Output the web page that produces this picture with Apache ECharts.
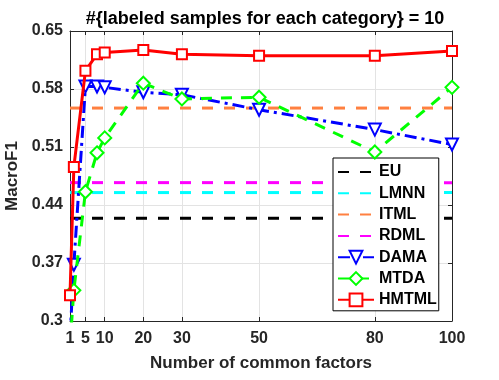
<!DOCTYPE html>
<html>
<head>
<meta charset="utf-8">
<script src="https://cdn.jsdelivr.net/npm/echarts@6/dist/echarts.min.js"></script>
<style>html,body{margin:0;padding:0;background:#fff;}#c{width:499px;height:380px;}</style>
</head>
<body>
<div id="c"></div>
<script>
const xValues = [1, 2, 5, 8, 10, 20, 30, 50, 80, 100];
const hmtml = [0.331, 0.486, 0.602, 0.622, 0.624, 0.627, 0.622, 0.620, 0.620, 0.626];
const dama  = [0.28, 0.368, 0.583, 0.583, 0.582, 0.576, 0.573, 0.555, 0.531, 0.513];
const mtda  = [0.27, 0.337, 0.456, 0.503, 0.521, 0.587, 0.568, 0.570, 0.504, 0.582];
const euVal = 0.424;
const lmnnVal = 0.455;
const itmlVal = 0.557;
const rdmlVal = 0.467;
const xTicks = [1, 5, 10, 20, 30, 50, 80, 100];
const yTicks = [0.3, 0.37, 0.44, 0.51, 0.58, 0.65];

const FONT = 'Liberation Sans, Arial, sans-serif';
const AX = '#262626';
const pair = (ys) => xValues.map((x, i) => [x, ys[i]]);
const flat = (v) => [[1, v], [100, v]];

function hline(name, v, color) {
  return {
    name, type: 'line', data: flat(v), symbol: 'none', xAxisIndex: 0, yAxisIndex: 0,
    lineStyle: { color, width: 3, type: [11, 11] }, itemStyle: { color }, z: 2, silent: true
  };
}

const chart = echarts.init(document.getElementById('c'), null, { renderer: 'canvas' });
chart.setOption({
  animation: false,
  backgroundColor: '#fff',
  title: {
    text: '#{labeled samples for each category} = 10',
    left: 260, top: 5, textAlign: 'center',
    textStyle: { fontFamily: FONT, fontSize: 18, fontWeight: 'bold', color: '#000' }
  },
  grid: { left: 70, right: 47, top: 31, bottom: 59, containLabel: false, outerBoundsMode: 'none' },
  xAxis: [{
    type: 'value', min: 1, max: 100,
    name: 'Number of common factors', nameLocation: 'middle', nameGap: 34,
    nameTextStyle: { fontFamily: FONT, fontSize: 17, fontWeight: 'bold', color: AX },
    axisLine: { show: true, lineStyle: { color: AX, width: 1 } },
    axisTick: { show: true, inside: true, length: 4, customValues: xTicks, lineStyle: { color: AX } },
    axisLabel: { customValues: xTicks, margin: 10, fontFamily: FONT, fontSize: 16, fontWeight: 'bold', color: AX },
    splitLine: { show: true, lineStyle: { color: '#e3e3e3', width: 1 } }
  }, {
    type: 'value', min: 1, max: 100, position: 'top',
    axisLine: { show: true, onZero: false, lineStyle: { color: AX, width: 1 } },
    axisTick: { show: true, inside: true, length: 4, customValues: xTicks, lineStyle: { color: AX } },
    axisLabel: { show: false }, splitLine: { show: false }
  }],
  yAxis: [{
    type: 'value', min: 0.3, max: 0.65,
    name: 'MacroF1', nameLocation: 'middle', nameGap: 42, nameRotate: 90,
    nameTextStyle: { fontFamily: FONT, fontSize: 17, fontWeight: 'bold', color: AX },
    axisLine: { show: true, lineStyle: { color: AX, width: 1 } },
    axisTick: { show: true, inside: true, length: 4, customValues: yTicks, lineStyle: { color: AX } },
    axisLabel: { customValues: yTicks, margin: 7, fontFamily: FONT, fontSize: 16, fontWeight: 'bold', color: AX,
      formatter: (v) => String(Math.round(v * 100) / 100) },
    splitLine: { show: true, lineStyle: { color: '#e3e3e3', width: 1 } }
  }, {
    type: 'value', min: 0.3, max: 0.65, position: 'right',
    axisLine: { show: true, onZero: false, lineStyle: { color: AX, width: 1 } },
    axisTick: { show: true, inside: true, length: 4, customValues: yTicks, lineStyle: { color: AX } },
    axisLabel: { show: false }, splitLine: { show: false }
  }],
  legend: {
    orient: 'vertical', left: 333, top: 158,
    backgroundColor: '#fff', borderColor: '#000', borderWidth: 1, borderRadius: 0,
    padding: [6, 2, 3, 4], itemWidth: 36, itemHeight: 16, itemGap: 5.3,
    textStyle: { fontFamily: FONT, fontSize: 16, lineHeight: 16, fontWeight: 'bold', color: '#000' },
    data: [
      { name: 'EU', itemStyle: { opacity: 0 } },
      { name: 'LMNN', itemStyle: { opacity: 0 } },
      { name: 'ITML', itemStyle: { opacity: 0 } },
      { name: 'RDML', itemStyle: { opacity: 0 } },
      'DAMA', 'MTDA', 'HMTML'
    ]
  },
  series: [
    hline('EU', euVal, '#000000'),
    hline('LMNN', lmnnVal, '#00ffff'),
    hline('ITML', itmlVal, '#ff8040'),
    hline('RDML', rdmlVal, '#ff00ff'),
    {
      name: 'DAMA', type: 'line', data: pair(dama), clip: true,
      symbol: 'emptyTriangle', symbolRotate: 180, symbolSize: 12,
      lineStyle: { color: '#0000ff', width: 3, type: [12, 5, 3, 5] },
      itemStyle: { color: '#0000ff', borderWidth: 2 }, z: 3
    },
    {
      name: 'MTDA', type: 'line', data: pair(mtda), clip: true,
      symbol: 'emptyDiamond', symbolSize: 13,
      lineStyle: { color: '#00ff00', width: 3, type: [11, 9] },
      itemStyle: { color: '#00ff00', borderWidth: 2 }, z: 4
    },
    {
      name: 'HMTML', type: 'line', data: pair(hmtml), clip: true,
      symbol: 'emptyRect', symbolSize: 10,
      lineStyle: { color: '#ff0000', width: 3 },
      itemStyle: { color: '#ff0000', borderWidth: 2 }, z: 5
    }
  ]
});
</script>
</body>
</html>
